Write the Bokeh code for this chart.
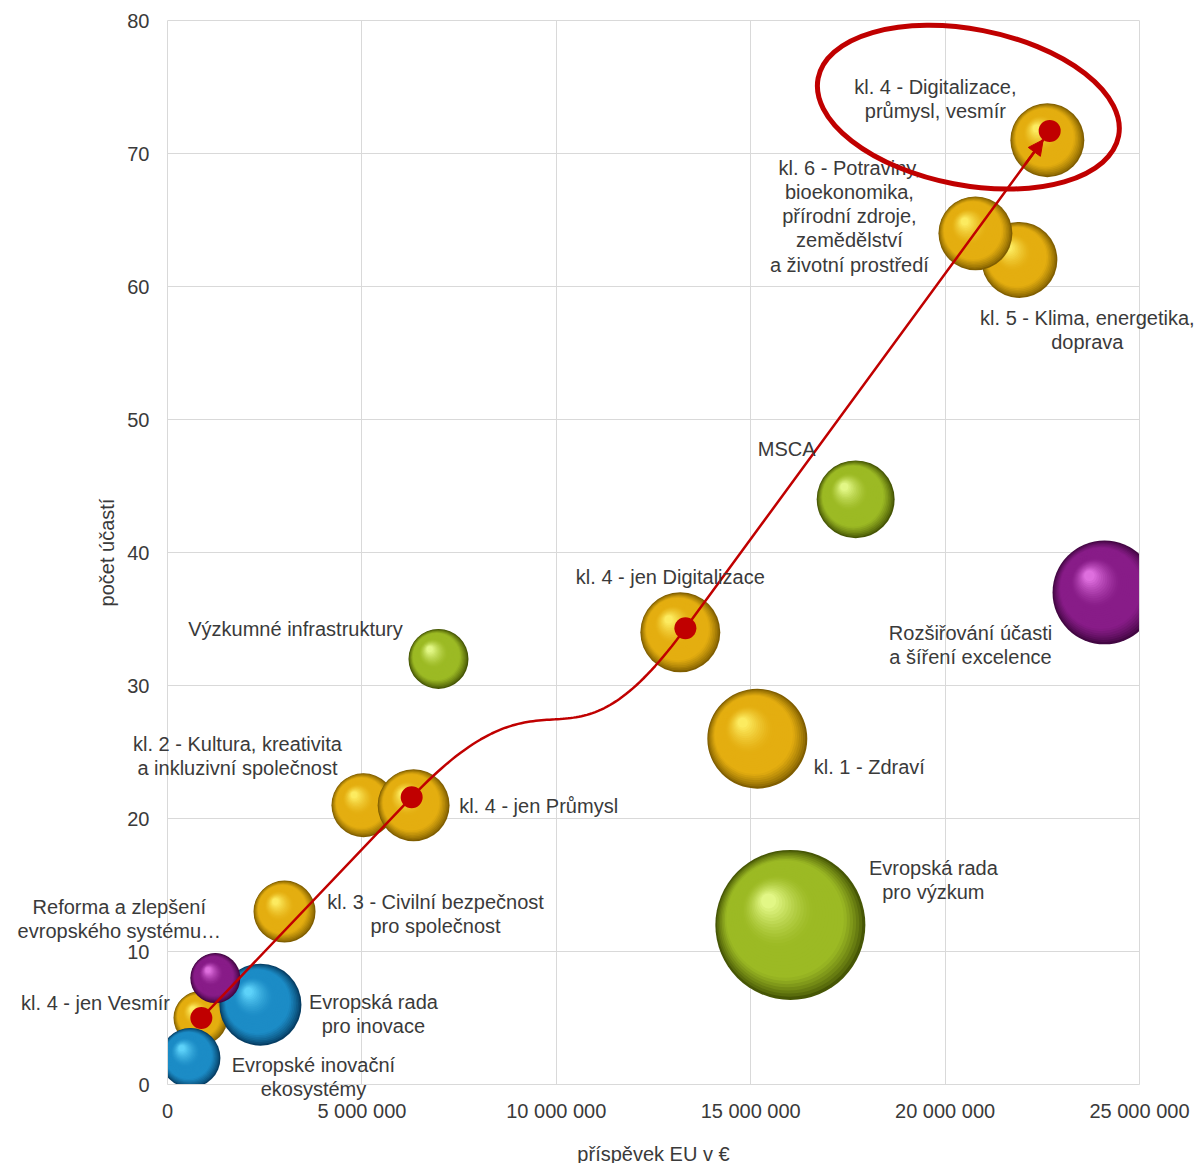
import numpy as np
from bokeh.plotting import figure
from bokeh.models import Label, Arrow, NormalHead, FixedTicker, Range1d, Grid
from bokeh.embed import file_html
from bokeh.resources import INLINE

# ---------------- data ----------------
labels = [
    "kl. 4 - jen Vesmír",
    "Evropské inovační\nekosystémy",
    "Evropská rada\npro inovace",
    "Reforma a zlepšení\nevropského systému…",
    "kl. 3 - Civilní bezpečnost\npro společnost",
    "kl. 2 - Kultura, kreativita\na inkluzivní společnost",
    "kl. 4 - jen Průmysl",
    "Výzkumné infrastruktury",
    "kl. 4 - jen Digitalizace",
    "kl. 1 - Zdraví",
    "Evropská rada\npro výzkum",
    "MSCA",
    "Rozšiřování účasti\na šíření excelence",
    "kl. 5 - Klima, energetika,\ndoprava",
    "kl. 6 - Potraviny,\nbioekonomika,\npřírodní zdroje,\nzemědělství\na životní prostředí",
    "kl. 4 - Digitalizace,\nprůmysl, vesmír",
]
contribution = [850000, 590000, 2390000, 1230000, 3010000, 5040000, 6330000, 6970000,
                13190000, 15170000, 16020000, 17700000, 24100000, 21910000, 20780000, 22630000]
participations = [5, 2, 6, 8, 13, 21, 21, 32, 34, 26, 12, 44, 37, 62, 64, 71]
bubble_size = [13, 16, 29.9, 11.1, 17.1, 18.2, 23, 16, 28.4, 44.4, 100, 27, 48, 25.7, 24.3, 24.3]
group = ["gold", "blue", "blue", "purple", "gold", "gold", "gold", "green",
         "gold", "gold", "green", "green", "purple", "gold", "gold", "gold"]

# kl. 4 trend (Vesmír -> Průmysl -> Digitalizace -> celkem)
trend_x = [870000, 6280000, 13320000, 22690000]
trend_y = [5.0, 21.6, 34.3, 71.7]

x_ticks = [0, 5000000, 10000000, 15000000, 20000000, 25000000]
y_ticks = [0, 10, 20, 30, 40, 50, 60, 70, 80]
x_tick_labels = {v: f"{v:,}".replace(",", " ") for v in x_ticks}
x_title = "příspěvek EU v €"
y_title = "počet účastí"

# ---------------- styles / layout ----------------
FONT = "Liberation Sans"
TXT = "#3a3a3a"
RED = "#C00000"
GRID = "#d9d9d9"
W, H = 1197, 1163
FL, FT = 167, 20          # data-area left / top in px
FW, FH = 972, 1064        # data-area size in px
XMAX, YMAX = 25000000, 80
XPX = XMAX / FW   # data units per px
YPX = YMAX / FH
R_MAX = 75.0

label_offsets = [(-105, 15), (123, -19), (113, -9), (-96, 59), (151, -2), (-126, 49),
                 (125, -1), (-143, 30), (-10, 55), (112, -28), (143, 45), (-69, 50),
                 (-134, -53), (68, -70), (-126, 17), (-112, 41)]

palettes = {
    "gold":   ((128, 94, 0), (228, 174, 16), (255, 242, 105)),
    "green":  ((70, 86, 5), (156, 186, 36), (234, 254, 145)),
    "purple": ((66, 6, 66), (136, 28, 136), (232, 120, 232)),
    "blue":   ((6, 62, 100), (28, 140, 198), (100, 218, 255)),
}

def mix(a, b, t):
    return tuple(int(round(a[k] + (b[k] - a[k]) * t)) for k in range(3))

def shade(pal, f):
    dark, base, light = pal
    if f < 0.22:
        c = mix(dark, base, (f / 0.22) ** 0.8)
    elif f < 0.55:
        c = base
    else:
        c = mix(base, light, ((f - 0.55) / 0.45) ** 1.4)
    return "#%02x%02x%02x" % c

x_range = Range1d(-FL * XPX, XMAX + (W - FL - FW) * XPX)
y_range = Range1d(-(H - FT - FH) * YPX, YMAX + FT * YPX)

p = figure(width=W, height=H, output_backend="svg", toolbar_location=None,
           x_range=x_range, y_range=y_range,
           min_border=0, min_border_left=0, min_border_right=0, min_border_top=0, min_border_bottom=0,
           background_fill_color="white", border_fill_color="white")
p.outline_line_color = None

for ax in (p.xaxis[0], p.yaxis[0]):
    ax.axis_line_color = None
    ax.major_tick_line_color = None
    ax.minor_tick_line_color = None
    ax.major_label_text_font = FONT
    ax.major_label_text_font_size = "20px"
    ax.major_label_text_color = TXT
    ax.axis_label_text_font = FONT
    ax.axis_label_text_font_size = "20px"
    ax.axis_label_text_font_style = "normal"
    ax.axis_label_text_color = TXT
    ax.fixed_location = 0

p.xaxis.ticker = FixedTicker(ticks=x_ticks)
p.xaxis.bounds = (0, XMAX)
p.xaxis.major_label_overrides = x_tick_labels
p.xaxis.major_label_standoff = 9
p.xaxis.axis_label = x_title
p.xaxis.axis_label_standoff = 18
p.yaxis.ticker = FixedTicker(ticks=y_ticks)
p.yaxis.bounds = (0, YMAX)
p.yaxis.major_label_standoff = 12
p.yaxis.axis_label = y_title
p.yaxis.axis_label_standoff = 6

# grid restricted to the data area
if "cross_bounds" in Grid.properties():
    p.xgrid.ticker = FixedTicker(ticks=x_ticks)
    p.ygrid.ticker = FixedTicker(ticks=y_ticks)
    p.xgrid.bounds = (0, XMAX)
    p.xgrid.cross_bounds = (0, YMAX)
    p.ygrid.bounds = (0, YMAX)
    p.ygrid.cross_bounds = (0, XMAX)
    p.xgrid.grid_line_color = GRID
    p.ygrid.grid_line_color = GRID
else:
    p.xgrid.grid_line_color = None
    p.ygrid.grid_line_color = None
    p.segment(x0=x_ticks, y0=[0] * len(x_ticks), x1=x_ticks, y1=[YMAX] * len(x_ticks),
              line_color=GRID, line_width=1)
    p.segment(x0=[0] * len(y_ticks), y0=y_ticks, x1=[XMAX] * len(y_ticks), y1=y_ticks,
              line_color=GRID, line_width=1)

# ---------------- spheres ----------------
N = 30
for i in range(len(labels)):
    r = R_MAX * np.sqrt(bubble_size[i] / max(bubble_size))
    fs = np.arange(N) / N
    xs = contribution[i] + fs * (-0.30 * r) * XPX
    ys = participations[i] + fs * (0.33 * r) * YPX
    rs = r * (1 - 0.93 * fs)
    cols = [shade(palettes[group[i]], f) for f in fs]
    rend = p.circle(x=list(xs), y=list(ys), radius=list(rs), radius_units="screen",
                    fill_color=cols, line_color=None)

# clip bubbles to the data area (as in the reference) with white masks outside it
mask = dict(fill_color="white", line_color=None)
p.quad(left=[x_range.start], right=[0], bottom=[y_range.start], top=[y_range.end], **mask)
p.quad(left=[XMAX], right=[x_range.end], bottom=[y_range.start], top=[y_range.end], **mask)
p.quad(left=[x_range.start], right=[x_range.end], bottom=[y_range.start], top=[0], **mask)
p.segment(x0=[0, XMAX, 0], y0=[0, 0, 0], x1=[0, XMAX, XMAX], y1=[YMAX, YMAX, 0],
          line_color=GRID, line_width=1)

# ---------------- trend curve ----------------
P = np.column_stack([np.array(trend_x) / XPX, np.array(trend_y) / YPX])
pts = [P[0], P[1]]
u_in = (P[1] - P[0]) / np.linalg.norm(P[1] - P[0])
u_out = (P[3] - P[2]) / np.linalg.norm(P[3] - P[2])
L = 0.65 * np.linalg.norm(P[2] - P[1])
C1 = P[1] + L * u_in
C2 = P[2] - L * u_out
for t in np.linspace(0, 1, 80)[1:]:
    b = ((1 - t) ** 3) * P[1] + 3 * t * (1 - t) ** 2 * C1 + 3 * t * t * (1 - t) * C2 + t ** 3 * P[2]
    pts.append(b)
end = P[3] - 11 * u_out
pts.append(end)
pts = np.array(pts)
p.line(x=list(pts[:, 0] * XPX), y=list(pts[:, 1] * YPX), line_color=RED, line_width=2.5)

start = end - 30 * u_out
p.add_layout(Arrow(end=NormalHead(size=15, fill_color=RED, line_color=RED),
                   x_start=start[0] * XPX, y_start=start[1] * YPX,
                   x_end=end[0] * XPX, y_end=end[1] * YPX,
                   line_color=RED, line_width=2.5))

p.scatter(x=trend_x, y=trend_y, size=22, marker="circle", fill_color=RED, line_color=None)

# ---------------- labels ----------------
for i, txt in enumerate(labels):
    dx, dy = label_offsets[i]
    p.add_layout(Label(x=contribution[i], y=participations[i], x_offset=dx, y_offset=dy,
                       text=txt, text_align="center", text_baseline="middle",
                       text_font=FONT, text_font_size="20px", text_color=TXT,
                       text_line_height=1.1))

# ---------------- highlight ellipse ----------------
hi = len(labels) - 1
ex = contribution[hi] + (-79) * XPX
ey = participations[hi] + 33 * YPX
p.ellipse(x=[ex], y=[ey], width=306, height=156, width_units="screen", height_units="screen",
          angle=-0.19, fill_color=None, line_color=RED, line_width=5, level="overlay")

open("out.html", "w").write(file_html(p, INLINE))
